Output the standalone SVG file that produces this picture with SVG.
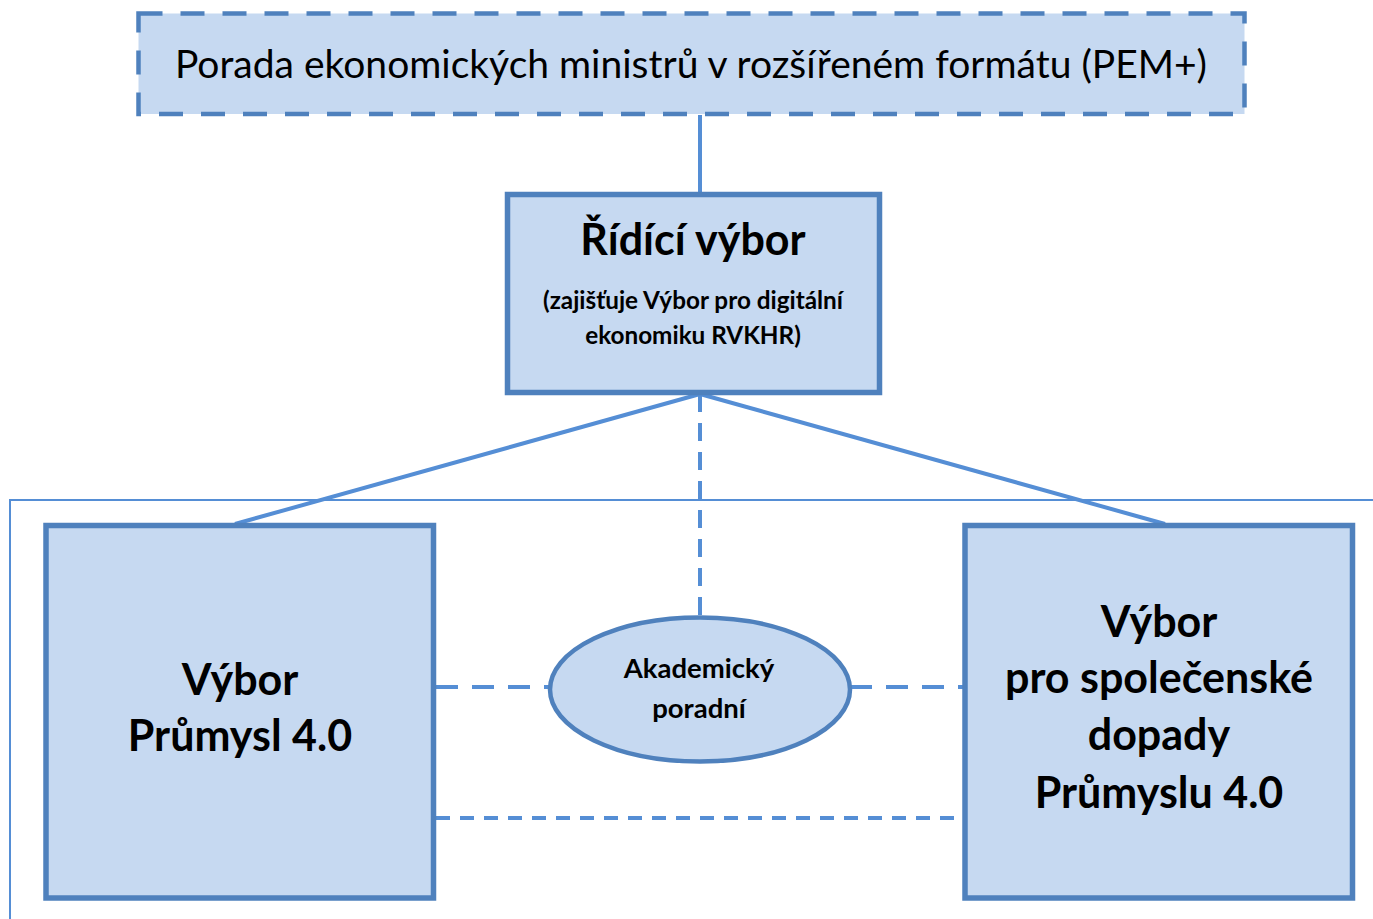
<svg xmlns="http://www.w3.org/2000/svg" width="1373" height="919" viewBox="0 0 1373 919">
<style>
.box{fill:#c6d9f1;stroke:#4f81bd;stroke-width:5.5}
.con{stroke:#558ed5;stroke-width:4;fill:none}
.t{font-family:Lato,"Open Sans","Liberation Sans",sans-serif;fill:#000;text-anchor:middle}
.b{font-weight:bold}
</style>
<rect x="0" y="0" width="1373" height="919" fill="#fff"/>
<rect x="10" y="500" width="1380" height="440" fill="none" stroke="#558ed5" stroke-width="2"/>
<g id="connectors">
<line class="con" x1="700" y1="115" x2="700" y2="195"/>
<line class="con" x1="700" y1="394" x2="235" y2="524"/>
<line class="con" x1="700" y1="394" x2="1165" y2="524"/>
<line class="con" x1="700" y1="394" x2="700" y2="617" stroke-dasharray="18,11"/>
<line class="con" x1="436" y1="687" x2="550" y2="687" stroke-dasharray="22,14"/>
<line class="con" x1="850" y1="687" x2="963" y2="687" stroke-dasharray="22,14"/>
<line class="con" x1="436" y1="818" x2="963" y2="818" stroke-width="3" stroke-dasharray="14,10"/>
</g>
<g id="pem">
<rect x="138.5" y="13.5" width="1106" height="100.5" fill="#c6d9f1" stroke="#4f81bd" stroke-width="4.5" stroke-dasharray="24,18"/>
<text class="t" x="691" y="78" font-size="39">Porada ekonomických ministrů v rozšířeném formátu (PEM+)</text>
</g>
<g id="ridici">
<rect class="box" x="507.5" y="194.5" width="372" height="198"/>
<text class="t b" x="693" y="255" font-size="43">Řídící výbor</text>
<text class="t b" x="693" y="309" font-size="24.3">(zajišťuje Výbor pro digitální</text>
<text class="t b" x="693" y="344" font-size="24.3">ekonomiku RVKHR)</text>
</g>
<g id="prumysl">
<rect class="box" x="46" y="525.5" width="387.5" height="372.5"/>
<text class="t b" x="240" y="695" font-size="43">Výbor</text>
<text class="t b" x="240" y="751" font-size="43">Průmysl 4.0</text>
</g>
<g id="spolecenske">
<rect class="box" x="965" y="525.5" width="387.5" height="372.5"/>
<text class="t b" x="1159" y="637" font-size="43">Výbor</text>
<text class="t b" x="1159" y="693" font-size="43">pro společenské</text>
<text class="t b" x="1159" y="750" font-size="43">dopady</text>
<text class="t b" x="1159" y="808" font-size="43">Průmyslu 4.0</text>
</g>
<g id="akademicky">
<ellipse cx="700" cy="689.5" rx="150" ry="72" fill="#c6d9f1" stroke="#4f81bd" stroke-width="4.5"/>
<text class="t b" x="699" y="678" font-size="27.5">Akademický</text>
<text class="t b" x="699" y="718" font-size="27.5">poradní</text>
</g>
</svg>
